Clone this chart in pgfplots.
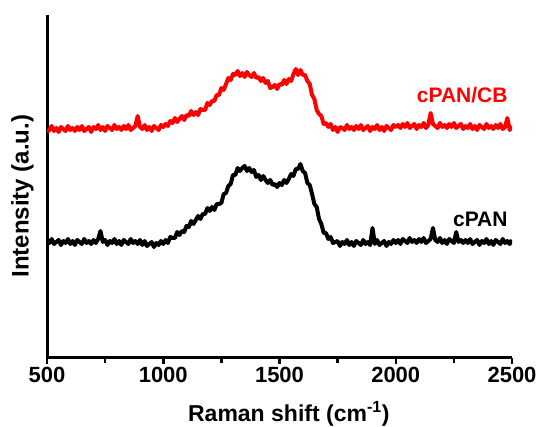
\documentclass[border=0pt]{standalone}
\usepackage{pgfplots}
\pgfplotsset{compat=1.18}
\usepackage{fontspec}
\setmainfont{Liberation Sans}
\definecolor{myred}{RGB}{255,0,0}
\begin{document}
\begin{tikzpicture}
\useasboundingbox (0,0) rectangle (537pt,427pt);
\begin{axis}[
 at={(47pt,69pt)}, anchor=south west,
 scale only axis, width=465pt, height=343pt,
 xmin=500, xmax=2500, ymin=0, ymax=343,
 axis x line*=bottom, axis y line*=left,
 axis line style={line width=3pt},
 ytick=\empty,
 xtick={500,1000,...,2500},
 minor xtick={750,1250,1750,2250},
 tick align=outside, xtick pos=bottom,
 major tick length=6pt, minor tick length=5pt,
 tick style={black, line width=2.5pt},
 /pgf/number format/assume math mode=true,
 /pgf/number format/1000 sep={},
 ticklabel style={font=\bfseries\fontsize{22}{26}\selectfont},
 xlabel={Raman shift (cm\textsuperscript{-1})},
 ylabel={Intensity (a.u.)},
 xlabel style={font=\bfseries\fontsize{23}{27}\selectfont, at={(axis description cs:0.52,-0.184)},anchor=base},
 ylabel style={font=\bfseries\fontsize{24}{28}\selectfont, at={(axis description cs:-0.0527,0.472)},anchor=center},
]
\addplot[black, line width=4pt, line join=round] coordinates {
(500,118)(510,115)(520,119)(530,114)(540,116)(550,118)(560,113)(570,117)(580,115)(590,119)
(600,114)(610,117)(620,113)(630,118)(640,116)(650,114)(660,119)(670,115)(680,117)(690,114)
(700,118)(710,115)(720,119)(730,127)(740,116)(750,118)(760,113)(770,117)(780,115)(790,119)
(800,114)(810,117)(820,113)(830,118)(840,116)(850,114)(860,119)(870,115)(880,117)(890,114)
(900,118)(910,113)(920,117)(930,112)(940,114)(950,116)(960,111)(970,115)(980,113)(990,117)
(1000,114)(1010,118)(1020,115)(1030,121)(1040,120)(1050,120)(1060,126)(1070,123)(1080,127)(1090,126)
(1100,132)(1110,131)(1120,137)(1130,134)(1140,138)(1150,142)(1160,139)(1170,144)(1180,144)(1190,150)
(1200,147)(1210,151)(1220,148)(1230,154)(1240,154)(1250,155)(1260,164)(1270,165)(1280,172)(1290,174)
(1300,183)(1310,183)(1320,190)(1330,187)(1340,190)(1350,192)(1360,187)(1370,190)(1380,186)(1390,188)
(1400,181)(1410,183)(1420,178)(1430,182)(1440,178)(1450,175)(1460,178)(1470,173)(1480,174)(1490,171)
(1500,175)(1510,173)(1520,178)(1530,175)(1540,179)(1550,184)(1560,182)(1570,189)(1580,189)(1590,194)
(1600,187)(1610,185)(1620,175)(1630,173)(1640,164)(1650,154)(1660,151)(1670,139)(1680,134)(1690,125)
(1700,125)(1710,119)(1720,121)(1730,115)(1740,116)(1750,117)(1760,112)(1770,116)(1780,114)(1790,118)
(1800,113)(1810,116)(1820,112)(1830,117)(1840,115)(1850,113)(1860,118)(1870,114)(1880,116)(1890,113)
(1900,130)(1910,114)(1920,118)(1930,113)(1940,115)(1950,117)(1960,112)(1970,116)(1980,114)(1990,118)
(2000,115)(2010,118)(2020,114)(2030,119)(2040,117)(2050,115)(2060,120)(2070,116)(2080,118)(2090,115)
(2100,119)(2110,116)(2120,120)(2130,115)(2140,117)(2150,119)(2160,130)(2170,118)(2180,116)(2190,120)
(2200,115)(2210,118)(2220,114)(2230,119)(2240,117)(2250,115)(2260,126)(2270,116)(2280,118)(2290,115)
(2300,118)(2310,115)(2320,119)(2330,114)(2340,116)(2350,118)(2360,113)(2370,117)(2380,115)(2390,119)
(2400,114)(2410,117)(2420,113)(2430,118)(2440,116)(2450,114)(2460,119)(2470,115)(2480,117)(2490,114)
(2500,118)
};
\addplot[myred, line width=4pt, line join=round] coordinates {
(500,226)(510,228)(520,232)(530,227)(540,230)(550,226)(560,231)(570,229)(580,227)(590,232)
(600,228)(610,230)(620,227)(630,231)(640,228)(650,232)(660,227)(670,229)(680,231)(690,226)
(700,231)(710,229)(720,233)(730,228)(740,231)(750,227)(760,232)(770,230)(780,228)(790,233)
(800,229)(810,231)(820,228)(830,232)(840,229)(850,233)(860,228)(870,230)(880,232)(890,242)
(900,231)(910,229)(920,233)(930,228)(940,231)(950,227)(960,232)(970,230)(980,228)(990,233)
(1000,231)(1010,234)(1020,232)(1030,237)(1040,235)(1050,240)(1060,236)(1070,239)(1080,242)(1090,238)
(1100,243)(1110,242)(1120,247)(1130,243)(1140,246)(1150,243)(1160,249)(1170,248)(1180,248)(1190,255)
(1200,253)(1210,257)(1220,257)(1230,263)(1240,263)(1250,270)(1260,268)(1270,274)(1280,280)(1290,278)
(1300,284)(1310,283)(1320,287)(1330,282)(1340,285)(1350,281)(1360,286)(1370,283)(1380,281)(1390,285)
(1400,280)(1410,281)(1420,277)(1430,280)(1440,275)(1450,277)(1460,270)(1470,271)(1480,273)(1490,269)
(1500,274)(1510,273)(1520,278)(1530,274)(1540,279)(1550,277)(1560,284)(1570,289)(1580,283)(1590,288)
(1600,283)(1610,283)(1620,277)(1630,274)(1640,263)(1650,259)(1660,248)(1670,244)(1680,242)(1690,234)
(1700,235)(1710,231)(1720,234)(1730,228)(1740,231)(1750,226)(1760,231)(1770,230)(1780,228)(1790,233)
(1800,229)(1810,231)(1820,228)(1830,232)(1840,229)(1850,233)(1860,228)(1870,230)(1880,232)(1890,227)
(1900,231)(1910,229)(1920,233)(1930,228)(1940,231)(1950,227)(1960,232)(1970,230)(1980,228)(1990,233)
(2000,231)(2010,233)(2020,230)(2030,234)(2040,231)(2050,235)(2060,230)(2070,232)(2080,234)(2090,229)
(2100,233)(2110,231)(2120,235)(2130,230)(2140,233)(2150,245)(2160,234)(2170,232)(2180,230)(2190,235)
(2200,231)(2210,233)(2220,230)(2230,234)(2240,231)(2250,235)(2260,230)(2270,232)(2280,234)(2290,229)
(2300,232)(2310,230)(2320,234)(2330,229)(2340,232)(2350,228)(2360,233)(2370,231)(2380,229)(2390,234)
(2400,230)(2410,232)(2420,229)(2430,233)(2440,230)(2450,234)(2460,229)(2470,231)(2480,240)(2490,228)
(2500,232)
};
\node[text=myred, anchor=east, font=\bfseries\fontsize{21}{25}\selectfont] at (axis cs:2496,262.5) {cPAN/CB};
\node[text=black, anchor=east, font=\bfseries\fontsize{21}{25}\selectfont] at (axis cs:2496,138.5) {cPAN};
\end{axis}
\end{tikzpicture}
\end{document}
